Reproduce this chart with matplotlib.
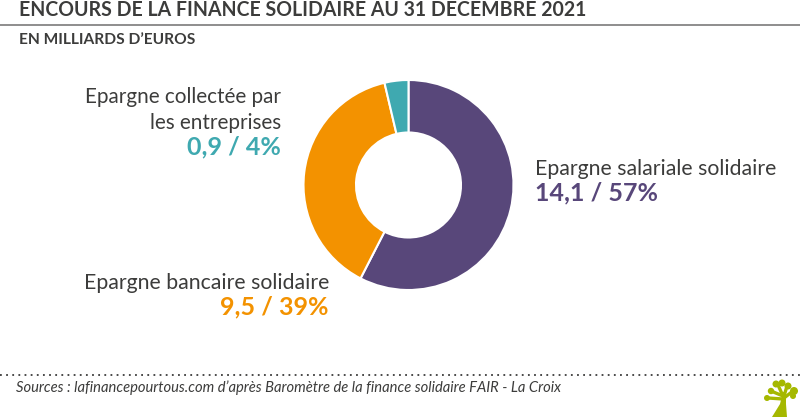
import matplotlib
matplotlib.use("Agg")
import matplotlib.pyplot as plt
from matplotlib.patches import Polygon, Circle

categories = ["Epargne salariale solidaire", "Epargne bancaire solidaire", "Epargne collectée par\nles entreprises"]
values = [14.1, 9.5, 0.9]
value_labels = ["14,1 / 57%", "9,5 / 39%", "0,9 / 4%"]
colors = ["#58477a", "#f39200", "#3fa9b0"]
title = "ENCOURS DE LA FINANCE SOLIDAIRE AU 31 DÉCEMBRE 2021"
subtitle = "EN MILLIARDS D’EUROS"
source = "Sources : lafinancepourtous.com d’après Baromètre de la finance solidaire FAIR - La Croix"

W, H = 800, 418
plt.rcParams['font.family'] = ['Lato', 'DejaVu Sans']
fig = plt.figure(figsize=(W/100, H/100), dpi=100, facecolor="white")

# overlay in pixel coordinates
ov = fig.add_axes([0, 0, 1, 1])
ov.set_xlim(0, W); ov.set_ylim(H, 0); ov.axis("off")

cx, cy, R = 408.5, 185, 105
ax = fig.add_axes([(cx-R)/W, 1-(cy+R)/H, 2*R/W, 2*R/H])
ax.pie(values, colors=colors, startangle=90, counterclock=False, radius=1,
       wedgeprops=dict(width=0.5, edgecolor="white", linewidth=1.5))
ax.set_xlim(-1, 1); ax.set_ylim(-1, 1); ax.set_aspect("equal"); ax.axis("off")

dark = "#3c3c3b"
ov.text(19, 16, title, fontsize=14.08, color=dark, va="baseline", ha="left", fontweight="bold")
ov.plot([0, W], [24.5, 24.5], color="#706f6f", lw=1.1)
ov.text(19, 44, subtitle, fontsize=11.2, color=dark, va="baseline", ha="left", fontweight="bold")

ov.text(281, 110, categories[2], fontsize=14.85, color=dark, ha="right", va="center", linespacing=1.33)
ov.text(281, 147, value_labels[2], fontsize=18, color=colors[2], ha="right", va="center", fontweight="bold")
ov.text(535, 169, categories[0], fontsize=15.3, color=dark, ha="left", va="center")
ov.text(535, 193, value_labels[0], fontsize=18, color=colors[0], ha="left", va="center", fontweight="bold")
ov.text(329, 283, categories[1], fontsize=15.3, color=dark, ha="right", va="center")
ov.text(329, 307, value_labels[1], fontsize=18, color=colors[1], ha="right", va="center", fontweight="bold")

ov.plot([0, W], [375, 375], color=dark, lw=1.3, linestyle=(0, (1, 2.4)))
ov.text(16, 388, source, fontsize=10.6, color=dark, style="italic", ha="left", va="center")

# small tree logo
g = "#a5b800"
ov.add_patch(Polygon([(772, 417), (780, 404), (783, 392), (786, 392), (786, 404), (787, 417)], closed=True, color=g, lw=0))
for (x, y, r) in [(771, 391, 3.2), (767, 398, 3), (776, 384, 3.5), (782, 383, 3.5), (788, 386, 3.5), (794, 391, 4), (793, 396, 3)]:
    ov.add_patch(Circle((x, y), r, color=g, lw=0))
for seg in [((783, 399), (768, 398)), ((783, 396), (771, 391)), ((783, 396), (778, 385)), ((784, 396), (787, 386)), ((784, 398), (793, 391))]:
    ov.plot(*zip(*seg), color=g, lw=2.4, solid_capstyle="round")

fig.savefig("out.png", dpi=100, facecolor="white")
